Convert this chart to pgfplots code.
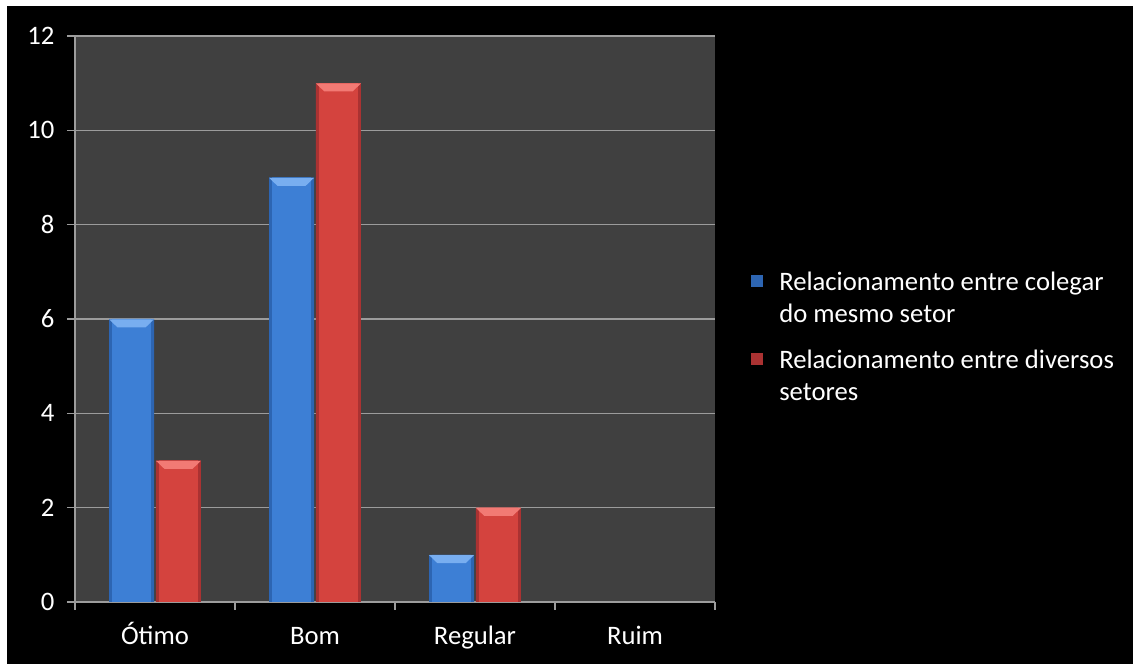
\documentclass[border=0pt]{standalone}
\usepackage{pgfplots}
\pgfplotsset{compat=1.18}
\usepackage{pgfplotstable}
\usepackage{fontspec}
\setmainfont{Carlito}

\definecolor{plotbg}{HTML}{404040}
\definecolor{gridc}{HTML}{9C9C9C}
\definecolor{bluemid}{HTML}{3D7FD5}
\definecolor{blueedge}{HTML}{2D65B2}
\definecolor{bluetop}{HTML}{78AEF0}
\definecolor{redmid}{HTML}{D4433E}
\definecolor{rededge}{HTML}{AA3232}
\definecolor{redtop}{HTML}{F27A74}

% answers per category: same sector / different sectors
\pgfplotstableread{
x mesmo diversos
0 6 3
1 9 11
2 1 2
3 0 0
}\avaliacao

\newcommand{\chartfont}{\fontsize{20}{24}\selectfont}
% bevelled cap placed on top of each bar
\newcommand{\bevel}[1]{\tikz\fill[#1] (0pt,0pt) -- (33.75pt,0pt) -- (27.5pt,-6pt) -- (6.25pt,-6pt) -- cycle;}

\begin{document}
\begin{tikzpicture}
% page background with thin white margin on the left and top
\fill[white] (0pt,0pt) rectangle (849.75pt,498pt);
\fill[black] (5.25pt,0pt) rectangle (849.75pt,493.5pt);
\begin{axis}[
  at={(56.25pt,46.5pt)}, anchor=south west,
  scale only axis, width=480pt, height=424.5pt,
  xmin=-0.5, xmax=3.5, ymin=0, ymax=12,
  ytick={0,2,...,12},
  xtick={-0.5,0.5,1.5,2.5,3.5},
  x tick label as interval,
  xticklabels={Ótimo,Bom,Regular,Ruim},
  ymajorgrids, grid style={gridc, line width=0.9pt},
  axis background/.style={fill=plotbg},
  axis x line*=bottom, axis y line*=left,
  axis line style={gridc, line width=0.9pt},
  tick style={gridc, line width=0.9pt},
  tick align=outside, major tick length=6pt,
  ticklabel style={white, font=\chartfont},
  xticklabel style={text height=14pt, text depth=4pt, yshift=-8pt},
  yticklabel style={xshift=-6pt},
  /pgf/number format/assume math mode=true,
  ybar, bar width=33.75pt,
  legend style={at={(1,0.468)}, anchor=west, xshift=27pt,
    draw=none, fill=none, text=white, font=\chartfont,
    inner sep=0pt, row sep=15pt, column sep=10pt, cells={align=left}},
  legend cell align=left,
  legend image code/.code={\fill[#1] (0pt,8.5pt) rectangle (9pt,17.5pt);},
]
% outer (darker) bar body
\addplot[draw=none, fill=blueedge, bar shift=-17.6pt, skip coords between index={3}{4}]
  table[x=x, y=mesmo] {\avaliacao};
\addlegendentry{Relacionamento entre colegar\\do mesmo setor}
\addplot[draw=none, fill=rededge, bar shift=17.6pt, skip coords between index={3}{4}]
  table[x=x, y=diversos] {\avaliacao};
\addlegendentry{Relacionamento entre diversos\\setores}
% lighter face of each bar, with its bevelled top
\addplot[forget plot, draw=none, fill=bluemid, bar width=29pt, bar shift=-17.6pt,
  skip coords between index={3}{4},
  nodes near coords={\bevel{bluetop}},
  nodes near coords style={inner sep=0pt, anchor=north}]
  table[x=x, y=mesmo] {\avaliacao};
\addplot[forget plot, draw=none, fill=redmid, bar width=29pt, bar shift=17.6pt,
  skip coords between index={3}{4},
  nodes near coords={\bevel{redtop}},
  nodes near coords style={inner sep=0pt, anchor=north}]
  table[x=x, y=diversos] {\avaliacao};
\end{axis}
\end{tikzpicture}
\end{document}
